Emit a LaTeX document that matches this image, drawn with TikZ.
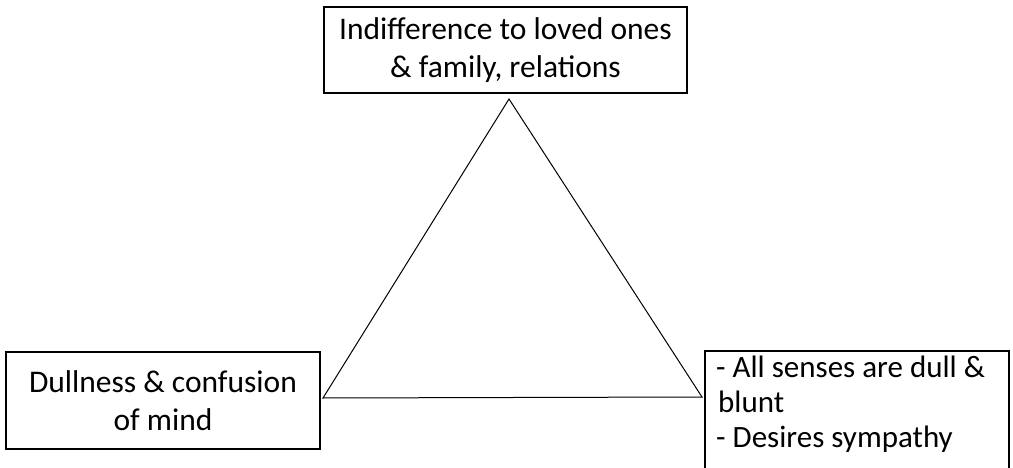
\documentclass[tikz,border=0pt]{standalone}
\usepackage{fontspec}
\setmainfont{Carlito}
\begin{document}
\begin{tikzpicture}[x=1pt,y=1pt,
  box/.style={draw=black, line width=1.7pt, inner sep=0pt, align=center,
    font=\fontsize{31.5}{38}\selectfont},
  tri/.style={draw=black, line width=1pt, line join=miter}]
\useasboundingbox (0,0) rectangle (1013,467);
\fill[white] (0,0) rectangle (1013,467);
% boxes
\node[box, minimum width=363pt, minimum height=86pt] (top) at (505.5,417)
  {Indifference to loved ones\\ \& family, relations};
\node[box, minimum width=314pt, minimum height=97pt] (left) at (163,66.5)
  {Dullness \& confusion\\ of mind};
\node[box, minimum width=304pt, minimum height=136pt] (right) at (857,48) {};
\node[anchor=north west, inner sep=0pt, align=left,
  font=\fontsize{31}{35}\selectfont] (rtext) at (716,111.5)
  {- All senses are dull \&\\ \hspace{2pt}blunt\\ - Desires sympathy};
% triangle
\coordinate (apex) at (509,368);
\coordinate (bl) at (323,69);
\coordinate (br) at (702,70);
\draw[tri] (apex) -- (bl) -- (br) -- cycle;
\end{tikzpicture}
\end{document}
